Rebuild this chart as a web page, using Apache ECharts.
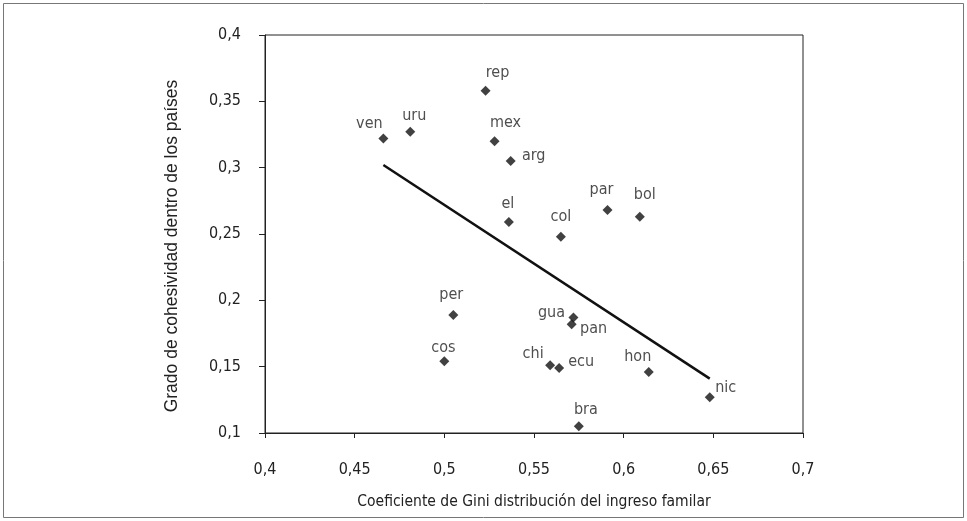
<!DOCTYPE html>
<html>
<head>
<meta charset="utf-8">
<script src="https://cdn.jsdelivr.net/npm/echarts@6/dist/echarts.min.js"></script>
<style>
  html, body { margin: 0; padding: 0; background: #fff; }
  #chart { width: 967px; height: 521px; }
</style>
</head>
<body>
<div id="chart"></div>
<script>
// datos
const paises = ['rep', 'ven', 'uru', 'mex', 'arg', 'el', 'col', 'par', 'bol',
  'per', 'gua', 'pan', 'cos', 'chi', 'ecu', 'hon', 'nic', 'bra']
const gini = [0.523, 0.466, 0.481, 0.528, 0.537, 0.536, 0.565, 0.591, 0.609,
  0.505, 0.572, 0.571, 0.500, 0.559, 0.564, 0.614, 0.648, 0.575]
const cohesividad = [0.358, 0.322, 0.327, 0.320, 0.305, 0.259, 0.248, 0.268, 0.263,
  0.189, 0.187, 0.182, 0.154, 0.151, 0.149, 0.146, 0.127, 0.105]
// recta de tendencia (extremos)
const tendenciaX = [0.466, 0.648]
const tendenciaY = [0.302, 0.141]
const ticksX = [0.4, 0.45, 0.5, 0.55, 0.6, 0.65, 0.7]
const ticksY = [0.1, 0.15, 0.2, 0.25, 0.3, 0.35, 0.4]

// desplazamiento de cada etiqueta respecto a su punto (px)
const offsetEtiqueta = {
  rep: [12, -18], ven: [-14, -15], uru: [4, -16], mex: [11, -18], arg: [23, -5],
  el: [-1, -18], col: [0, -20], par: [-6, -20], bol: [5, -22], per: [-2, -20],
  gua: [-22, -5], pan: [22, 5], cos: [-1, -14], chi: [-17, -11], ecu: [22, -6],
  hon: [-11, -15], nic: [16, -9], bra: [7, -17],
}

const fmt = v => String(v).replace('.', ',')
const narrow = '"Liberation Sans Narrow", "DejaVu Sans Condensed", sans-serif'

const puntos = paises.map((p, i) => ({
  name: p,
  value: [gini[i], cohesividad[i]],
  label: { offset: offsetEtiqueta[p] },
}))

const chart = echarts.init(document.getElementById('chart'))
const option = {
  animation: false,
  backgroundColor: '#fff',
  graphic: [{
    type: 'rect',
    shape: { x: 3.5, y: 3.5, width: 960, height: 514 },
    style: { fill: 'none', stroke: '#777', lineWidth: 1 },
  }],
  grid: {
    left: 265, right: 164, top: 35, bottom: 88,
    show: true, borderColor: '#222', borderWidth: 1,
  },
  xAxis: {
    type: 'value',
    min: 0.4, max: 0.7, interval: 0.05,
    name: 'Coeficiente de Gini distribución del ingreso familar',
    nameLocation: 'middle', nameGap: 61,
    nameTextStyle: { fontFamily: narrow, fontSize: 15.5, color: '#222' },
    axisLine: { lineStyle: { color: '#222', width: 1 } },
    axisTick: { show: true, length: 5, lineStyle: { color: '#222' } },
    splitLine: { show: false },
    axisLabel: {
      fontFamily: narrow, fontSize: 16, color: '#222', margin: 29,
      formatter: v => fmt(+v.toFixed(2)),
    },
  },
  yAxis: {
    type: 'value',
    min: 0.1, max: 0.4, interval: 0.05,
    name: 'Grado de cohesividad dentro de los países',
    nameLocation: 'middle', nameGap: 84, nameRotate: 90,
    nameTextStyle: {
      fontFamily: '"Liberation Sans", Arial, sans-serif', fontSize: 17.5, color: '#222',
      padding: [0, 24, 0, 0],
    },
    axisLine: { show: true, lineStyle: { color: '#222', width: 1 } },
    axisTick: { show: true, length: 6, lineStyle: { color: '#222' } },
    splitLine: { show: false },
    axisLabel: {
      fontFamily: narrow, fontSize: 16, color: '#222', margin: 24,
      formatter: v => fmt(+v.toFixed(2)),
    },
  },
  series: [
    {
      type: 'line',
      data: tendenciaX.map((x, i) => [x, tendenciaY[i]]),
      symbol: 'none',
      lineStyle: { color: '#111', width: 2.5 },
      silent: true,
    },
    {
      type: 'scatter',
      data: puntos,
      symbol: 'diamond',
      symbolSize: 10,
      itemStyle: { color: '#111' },
      label: {
        show: true,
        position: 'inside',
        formatter: '{b}',
        fontFamily: narrow, fontSize: 16, color: '#222',
      },
    },
  ],
}
chart.setOption(option)
</script>
</body>
</html>
